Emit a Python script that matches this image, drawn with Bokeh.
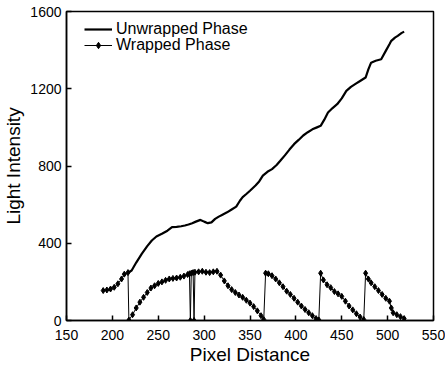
from bokeh.plotting import figure
from bokeh.models import Range1d, FixedTicker, Legend, LegendItem
from bokeh.embed import file_html
from bokeh.resources import INLINE

# Unwrapped phase
uw_x = [217, 221, 226, 232, 238, 243, 248, 254, 260, 265, 270, 275, 279, 283, 287, 291, 296, 300, 304, 308,
        312, 316, 320, 325, 330, 335, 339, 342, 346, 350, 356, 360, 364, 369, 374, 379, 383, 388, 393, 398,
        403, 408, 413, 418, 423, 427, 431, 435, 440, 445, 450, 455, 460, 465, 470, 476, 479, 482, 487, 493,
        498, 502, 504, 508, 511, 515, 518]
uw_y = [247, 259, 300, 345, 385, 414, 435, 449, 465, 483, 485, 488, 492, 497, 504, 512, 521, 512, 504, 508,
        526, 538, 548, 560, 575, 590, 620, 639, 655, 672, 699, 720, 750, 770, 784, 805, 827, 855, 885, 913,
        935, 958, 975, 990, 1000, 1008, 1040, 1077, 1100, 1120, 1150, 1189, 1210, 1225, 1240, 1258, 1300, 1335, 1345, 1353,
        1396, 1430, 1448, 1465, 1474, 1488, 1496]

# Wrapped phase
w_x = [190, 194, 198, 202, 206, 210, 213, 217, 218, 222, 226, 230, 234, 238, 242, 246, 250, 254, 258, 262,
       266, 270, 274, 278, 282, 284, 285, 286, 288, 289, 290, 294, 298, 302, 306, 310, 314, 318, 322, 326,
       330, 334, 338, 342, 346, 350, 354, 358, 362, 365, 367, 370, 374, 378, 382, 386, 390, 394, 398, 402,
       406, 410, 414, 418, 422, 425, 427, 430, 434, 438, 442, 446, 450, 454, 458, 462, 466, 470, 474, 476,
       479, 482, 486, 490, 494, 498, 502, 504, 506, 510, 514, 518]
w_y = [155, 158, 163, 172, 190, 215, 240, 248, 2, 30, 65, 95, 120, 145, 168, 180, 192, 200, 208, 215,
       218, 220, 224, 230, 238, 242, 0, 245, 248, 0, 250, 252, 255, 250, 248, 252, 255, 235, 205, 180,
       160, 145, 132, 120, 105, 90, 72, 50, 25, 5, 245, 242, 232, 215, 195, 175, 152, 135, 115, 95,
       75, 57, 40, 25, 10, 3, 245, 210, 185, 170, 150, 138, 125, 100, 75, 55, 35, 18, 5, 245,
       215, 195, 175, 155, 135, 115, 100, 65, 40, 30, 20, 10]

x_ticks = [150, 200, 250, 300, 350, 400, 450, 500, 550]
y_ticks = [0, 400, 800, 1200, 1600]

FONT = "Liberation Sans"

p = figure(frame_width=367, frame_height=309, output_backend="svg", toolbar_location=None,
           x_range=Range1d(150, 550), y_range=Range1d(0, 1600),
           min_border_left=61, min_border_right=12, min_border_top=11, min_border_bottom=10)
p.outline_line_color = "black"
p.outline_line_width = 1.5
p.grid.visible = False

for ax in (p.xaxis[0], p.yaxis[0]):
    ax.axis_line_color = "black"
    ax.axis_line_width = 1.5
    ax.major_tick_in = 5
    ax.major_tick_out = 0
    ax.minor_tick_line_color = None
    ax.major_tick_line_width = 1.5
    ax.major_label_text_font = FONT
    ax.major_label_text_font_size = "14px"
    ax.major_label_text_color = "black"
    ax.axis_label_text_font = FONT
    ax.axis_label_text_font_size = "19px"
    ax.axis_label_text_font_style = "normal"
    ax.axis_label_text_color = "black"

p.xaxis[0].ticker = FixedTicker(ticks=x_ticks)
p.yaxis[0].ticker = FixedTicker(ticks=y_ticks)
p.xaxis[0].axis_label = "Pixel Distance"
p.yaxis[0].axis_label = "Light Intensity"
p.xaxis[0].major_label_standoff = 9
p.xaxis[0].axis_label_standoff = 1
p.yaxis[0].major_label_standoff = 5
p.yaxis[0].axis_label_standoff = 3

r_uw = p.line(uw_x, uw_y, line_color="black", line_width=2.2)
r_wl = p.line(w_x, w_y, line_color="black", line_width=1)
r_ws = p.scatter(w_x, w_y, marker="diamond", size=6, fill_color="black", line_color="black")

def make_legend(label, renderers, y):
    lg = Legend(items=[LegendItem(label=label, renderers=renderers)], location=(18, y))
    lg.margin = 0
    lg.padding = 0
    lg.spacing = 0
    lg.glyph_width = 28
    lg.glyph_height = 16
    lg.label_height = 16
    lg.label_standoff = 4
    lg.label_text_font = FONT
    lg.label_text_font_size = "16px"
    lg.label_text_color = "black"
    lg.border_line_color = None
    lg.background_fill_alpha = 0
    return lg

p.add_layout(make_legend("Unwrapped Phase", [r_uw], 282))
p.add_layout(make_legend("Wrapped Phase", [r_wl, r_ws], 266))

open("out.html", "w").write(file_html(p, INLINE))
